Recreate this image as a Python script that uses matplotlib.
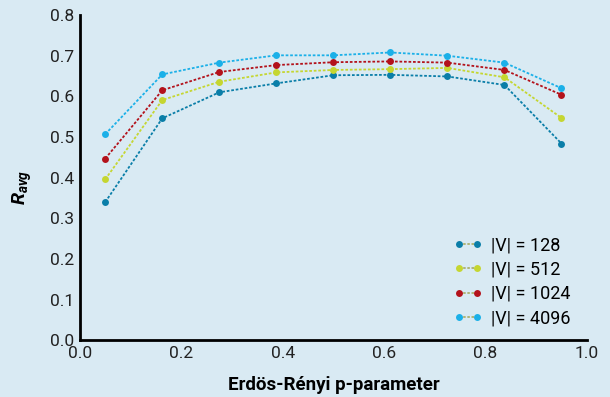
import matplotlib
matplotlib.use("Agg")
import matplotlib.pyplot as plt
from matplotlib.lines import Line2D

matplotlib.rcParams.update({
    "font.family": ["Roboto", "DejaVu Sans"],
    "font.size": 12,
    "mathtext.fontset": "custom",
    "mathtext.bfit": "Roboto:bold:italic",
    "mathtext.it": "Roboto:bold:italic",
})

BG = "#d9eaf3"

p_values = [0.05, 0.1625, 0.275, 0.3875, 0.5, 0.6125, 0.725, 0.8375, 0.95]

r_128 = [0.340, 0.546, 0.610, 0.632, 0.652, 0.653, 0.649, 0.628, 0.484]
r_512 = [0.396, 0.591, 0.636, 0.659, 0.665, 0.667, 0.670, 0.647, 0.547]
r_1024 = [0.447, 0.615, 0.660, 0.677, 0.684, 0.686, 0.683, 0.665, 0.604]
r_4096 = [0.507, 0.654, 0.683, 0.701, 0.701, 0.708, 0.700, 0.683, 0.620]

series = [
    ("|V| = 128", r_128, "#0a7ea8"),
    ("|V| = 512", r_512, "#c5d631"),
    ("|V| = 1024", r_1024, "#b3121b"),
    ("|V| = 4096", r_4096, "#1bb0e8"),
]

fig = plt.figure(figsize=(6.1, 3.97), dpi=100, facecolor=BG)
ax = fig.add_axes([0.131, 0.143, 0.831, 0.819], facecolor=BG)

handles = []
for label, vals, color in series:
    ax.plot(p_values, vals, linestyle=(0, (1.5, 1.0)), linewidth=1.3, color=color,
            marker="o", markersize=5, markeredgewidth=0, zorder=3)
    handles.append(Line2D([], [], linestyle=(0, (1.5, 1.0)), linewidth=1.2, color="#a8ab62",
                          marker="o", markersize=5, markeredgewidth=0,
                          markerfacecolor=color, label=label))

ax.set_xlim(0, 1.0)
ax.set_ylim(0, 0.8)
ax.set_xticks([0.0, 0.2, 0.4, 0.6, 0.8, 1.0])
ax.set_yticks([0.0, 0.1, 0.2, 0.3, 0.4, 0.5, 0.6, 0.7, 0.8])
ax.tick_params(length=0, pad=4, labelsize=12.5, labelcolor="#222222")
for s in ["top", "right"]:
    ax.spines[s].set_visible(False)
for s in ["left", "bottom"]:
    ax.spines[s].set_linewidth(2)
    ax.spines[s].set_color("black")

ax.set_xlabel("Erdös-Rényi p-parameter", fontweight="bold", fontsize=13.5, labelpad=11)
ax.set_ylabel(r"$R_{avg}$", fontsize=14)
ax.yaxis.set_label_coords(-0.09, 0.47)

ax.legend(handles=handles, loc="lower right", numpoints=2, frameon=False,
          handlelength=1.6, handletextpad=0.5, labelspacing=0.35, fontsize=13,
          bbox_to_anchor=(1.0, -0.01))

fig.savefig("out.png", dpi=100, facecolor=BG)
